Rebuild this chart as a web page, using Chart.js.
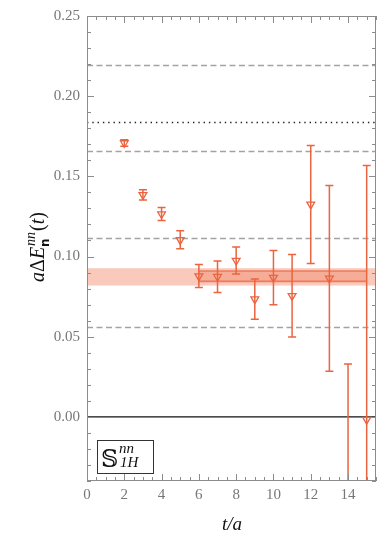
<!DOCTYPE html>
<html>
<head>
<meta charset="utf-8">
<script src="https://cdn.jsdelivr.net/npm/chart.js@4"></script>
<style>
  body { margin: 0; background: #fff; }
  #wrap { width: 390px; height: 539px; position: relative; }
</style>
</head>
<body>
<div id="wrap"><canvas id="energyChart"></canvas></div>
<script>
// effective energy shift per time slice
const timeSlices = [2, 3, 4, 5, 6, 7, 8, 9, 10, 11, 12, 13, 14, 15];
const energyShift = [0.1708, 0.1384, 0.1265, 0.1104, 0.0878, 0.0874, 0.0975, 0.0734, 0.0868, 0.0755, 0.1325, 0.0864, -0.050, -0.0017];
const energyError = [0.0020, 0.0032, 0.0040, 0.0056, 0.0072, 0.0098, 0.0084, 0.0126, 0.0169, 0.0257, 0.0368, 0.0579, 0.0830, 0.1584];

// fit result: full band + band over the fit range
const fitRange = [6, 15];
const fitOuter = [0.0819, 0.0927];
const fitInner = [0.0845, 0.0910];

// reference levels
const dashedLevels = [0.0563, 0.1113, 0.1656, 0.2197];
const dottedLevel = 0.1837;

// axis ticks
const yTickValues = [0.00, 0.05, 0.10, 0.15, 0.20, 0.25];
const xTickValues = [0, 2, 4, 6, 8, 10, 12, 14];

const ORANGE = '#ea6440';
const serif = "'Liberation Serif', 'DejaVu Serif', serif";

const overlay = {
    id: 'overlay',
    beforeDatasetsDraw(chart) {
        const { ctx, chartArea: a, scales: { x, y } } = chart;
        ctx.save();
        ctx.beginPath();
        ctx.rect(a.left, a.top, a.width, a.height);
        ctx.clip();

        // light band, full width
        ctx.fillStyle = 'rgba(244, 150, 120, 0.5)';
        ctx.fillRect(a.left, y.getPixelForValue(fitOuter[1]), a.width,
            y.getPixelForValue(fitOuter[0]) - y.getPixelForValue(fitOuter[1]));

        // inner band over fit range
        const x0 = x.getPixelForValue(fitRange[0]);
        const x1 = x.getPixelForValue(fitRange[1]);
        const yi0 = y.getPixelForValue(fitInner[0]);
        const yi1 = y.getPixelForValue(fitInner[1]);
        ctx.fillStyle = 'rgba(238, 120, 85, 0.35)';
        ctx.fillRect(x0, yi1, x1 - x0, yi0 - yi1);
        ctx.strokeStyle = 'rgba(236, 100, 64, 0.75)';
        ctx.lineWidth = 1.6;
        ctx.beginPath();
        ctx.moveTo(x0, yi0); ctx.lineTo(x1, yi0);
        ctx.moveTo(x0, yi1); ctx.lineTo(x1, yi1);
        ctx.stroke();

        // dashed levels
        ctx.strokeStyle = '#a3a3a3';
        ctx.lineWidth = 1.3;
        ctx.setLineDash([6, 3.5]);
        dashedLevels.forEach(v => {
            const py = Math.round(y.getPixelForValue(v)) + 0.5;
            ctx.beginPath();
            ctx.moveTo(a.left, py); ctx.lineTo(a.right, py);
            ctx.stroke();
        });

        // dotted level
        ctx.strokeStyle = '#222';
        ctx.lineWidth = 1.4;
        ctx.setLineDash([1.4, 3.9]);
        let py = Math.round(y.getPixelForValue(dottedLevel)) + 0.5;
        ctx.beginPath();
        ctx.moveTo(a.left, py); ctx.lineTo(a.right, py);
        ctx.stroke();

        // zero line
        ctx.setLineDash([]);
        ctx.strokeStyle = '#111';
        ctx.lineWidth = 1.4;
        py = y.getPixelForValue(0);
        ctx.beginPath();
        ctx.moveTo(a.left, py); ctx.lineTo(a.right, py);
        ctx.stroke();

        // error bars
        ctx.lineWidth = 1.5;
        timeSlices.forEach((t, i) => {
            const px = x.getPixelForValue(t);
            const top = y.getPixelForValue(energyShift[i] + energyError[i]);
            const bot = y.getPixelForValue(energyShift[i] - energyError[i]);
            ctx.strokeStyle = ORANGE;
            ctx.beginPath();
            ctx.moveTo(px, top); ctx.lineTo(px, bot);
            ctx.moveTo(px - 4, top); ctx.lineTo(px + 4, top);
            ctx.moveTo(px - 4, bot); ctx.lineTo(px + 4, bot);
            ctx.stroke();
        });
        ctx.restore();
    },
    afterDatasetsDraw(chart) {
        const { ctx, chartArea: a, scales: { x, y } } = chart;
        ctx.save();
        ctx.strokeStyle = '#8c8c8c';
        ctx.lineWidth = 1;
        ctx.strokeRect(a.left + 0.5, a.top + 0.5, a.width - 1, a.height - 1);

        // inward ticks on all four sides
        ctx.beginPath();
        for (let k = -4; k <= 25; k++) {
            const v = k / 100;
            const py = Math.round(y.getPixelForValue(v)) + 0.5;
            const len = (k % 5 === 0) ? 7 : 4;
            ctx.moveTo(a.left, py); ctx.lineTo(a.left + len, py);
            ctx.moveTo(a.right, py); ctx.lineTo(a.right - len, py);
        }
        for (let k = 0; k <= 31; k++) {
            const v = k / 2;
            const px = Math.round(x.getPixelForValue(v)) + 0.5;
            const len = (k % 4 === 0) ? 7 : 4;
            ctx.moveTo(px, a.bottom); ctx.lineTo(px, a.bottom - len);
            ctx.moveTo(px, a.top); ctx.lineTo(px, a.top + len);
        }
        ctx.stroke();

        // label box
        ctx.fillStyle = '#fff';
        ctx.fillRect(97, 440, 56, 33);
        ctx.strokeStyle = '#333';
        ctx.strokeRect(97.5, 440.5, 56, 33);
        ctx.fillStyle = '#111';
        ctx.textBaseline = 'alphabetic';
        ctx.font = "24px 'DejaVu Serif', 'DejaVu Sans', serif";
        ctx.fillText('\u{1D54A}', 101, 467);
        ctx.font = "italic 15px " + serif;
        ctx.fillText('nn', 119, 453);
        ctx.fillText('1H', 120, 467);
        ctx.restore();
    },
    afterDraw(chart) {
        const { ctx } = chart;
        ctx.save();
        ctx.fillStyle = '#111';
        ctx.textBaseline = 'alphabetic';

        // x axis title
        ctx.font = "italic 19px " + serif;
        ctx.textAlign = 'center';
        ctx.fillText('t/a', 232, 530);

        // y axis title, rotated
        ctx.translate(44, 247);
        ctx.rotate(-Math.PI / 2);
        ctx.textAlign = 'left';
        const big = 20, sup = 14;
        const parts = [
            { s: 'a', f: "italic " + big + "px " + serif },
            { s: '\u0394', f: big + "px " + serif },
            { s: 'E', f: "italic " + big + "px " + serif },
        ];
        let w = 0;
        parts.forEach(p => { ctx.font = p.f; w += ctx.measureText(p.s).width; });
        ctx.font = "italic " + sup + "px " + serif;
        const supW = ctx.measureText('nn').width;
        ctx.font = big + "px " + serif;
        const tailW = ctx.measureText('()').width;
        ctx.font = "italic " + big + "px " + serif;
        const tW = ctx.measureText('t').width;
        let cx = -(w + supW + 2 + tailW + tW) / 2;
        parts.forEach(p => { ctx.font = p.f; ctx.fillText(p.s, cx, 0); cx += ctx.measureText(p.s).width; });
        ctx.font = "italic " + sup + "px " + serif;
        ctx.fillText('nn', cx + 1, -9);
        ctx.font = "bold 12px 'DejaVu Sans', sans-serif";
        ctx.fillText('n', cx, 5);
        cx += supW + 2;
        ctx.font = big + "px " + serif;
        ctx.fillText('(', cx, 0); cx += ctx.measureText('(').width;
        ctx.font = "italic " + big + "px " + serif;
        ctx.fillText('t', cx, 0); cx += tW;
        ctx.font = big + "px " + serif;
        ctx.fillText(')', cx, 0);
        ctx.restore();
    }
};

const points = timeSlices.map((t, i) => ({ x: t, y: energyShift[i] }));

new Chart(document.getElementById('energyChart'), {
    type: 'scatter',
    data: {
        datasets: [{
            data: points,
            pointStyle: 'triangle',
            rotation: 180,
            pointRadius: 4.5,
            pointHoverRadius: 4.5,
            borderWidth: 1.3,
            borderColor: ORANGE,
            backgroundColor: 'rgba(0,0,0,0)'
        }]
    },
    options: {
        responsive: true,
        maintainAspectRatio: false,
        animation: false,
        events: [],
        layout: { padding: { top: 13, right: 14, left: 0, bottom: 0 } },
        plugins: { legend: { display: false }, tooltip: { enabled: false } },
        scales: {
            x: {
                min: 0, max: 15.5,
                afterBuildTicks: s => { s.ticks = xTickValues.map(v => ({ value: v })); },
                afterFit: s => { s.height = 58; },
                grid: { display: false, drawTicks: false },
                border: { display: false },
                ticks: { color: '#777', padding: 5, font: { family: serif, size: 15 }, maxRotation: 0,
                         callback: v => String(v) }
            },
            y: {
                min: -0.04, max: 0.25,
                afterBuildTicks: s => { s.ticks = yTickValues.map(v => ({ value: v })); },
                afterFit: s => { s.width = 87; },
                grid: { display: false, drawTicks: false },
                border: { display: false },
                ticks: { color: '#777', padding: 7, font: { family: serif, size: 15 },
                         callback: v => v.toFixed(2) }
            }
        }
    },
    plugins: [overlay]
});
</script>
</body>
</html>
